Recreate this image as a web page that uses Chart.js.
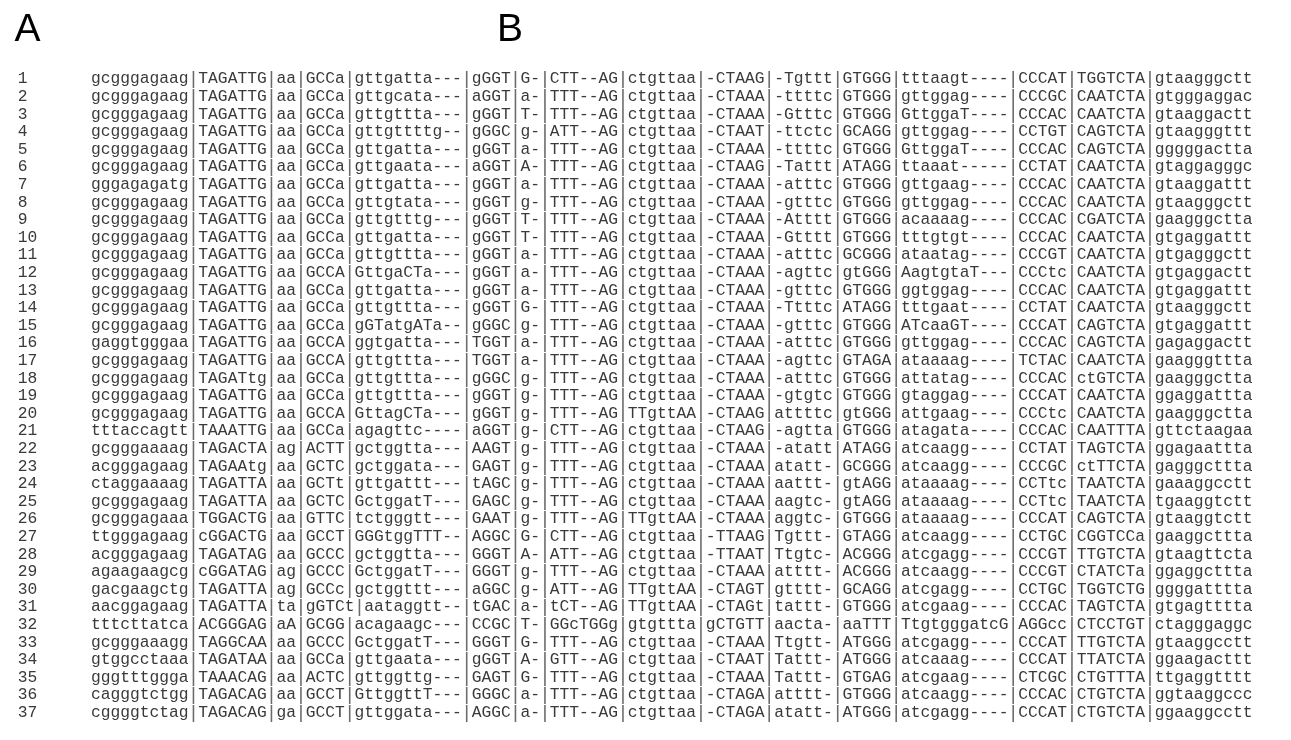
<!DOCTYPE html>
<html><head><meta charset="utf-8">
<script src="https://cdn.jsdelivr.net/npm/chart.js@4.4.0/dist/chart.umd.min.js"></script>
<style>html,body{margin:0;padding:0;background:#fff;}#wrap{width:1291px;height:740px;}</style>
</head><body><div id="wrap"><canvas id="c" width="1291" height="740"></canvas></div>
<script>
// ---- data ----
const panelLabels = ['A', 'B'];
const rowLabels = ['1','2','3','4','5','6','7','8','9','10','11','12','13','14','15','16','17','18','19','20','21','22','23','24','25','26','27','28','29','30','31','32','33','34','35','36','37'];
const sequences = [
'gcgggagaag|TAGATTG|aa|GCCa|gttgatta---|gGGT|G-|CTT--AG|ctgttaa|-CTAAG|-Tgttt|GTGGG|tttaagt----|CCCAT|TGGTCTA|gtaagggctt',
'gcgggagaag|TAGATTG|aa|GCCa|gttgcata---|aGGT|a-|TTT--AG|ctgttaa|-CTAAA|-ttttc|GTGGG|gttggag----|CCCGC|CAATCTA|gtgggaggac',
'gcgggagaag|TAGATTG|aa|GCCa|gttgttta---|gGGT|T-|TTT--AG|ctgttaa|-CTAAA|-Gtttc|GTGGG|GttggaT----|CCCAC|CAATCTA|gtaaggactt',
'gcgggagaag|TAGATTG|aa|GCCa|gttgttttg--|gGGC|g-|ATT--AG|ctgttaa|-CTAAT|-ttctc|GCAGG|gttggag----|CCTGT|CAGTCTA|gtaagggttt',
'gcgggagaag|TAGATTG|aa|GCCa|gttgatta---|gGGT|a-|TTT--AG|ctgttaa|-CTAAA|-ttttc|GTGGG|GttggaT----|CCCAC|CAGTCTA|gggggactta',
'gcgggagaag|TAGATTG|aa|GCCa|gttgaata---|aGGT|A-|TTT--AG|ctgttaa|-CTAAG|-Tattt|ATAGG|ttaaat-----|CCTAT|CAATCTA|gtaggagggc',
'gggagagatg|TAGATTG|aa|GCCa|gttgatta---|gGGT|a-|TTT--AG|ctgttaa|-CTAAA|-atttc|GTGGG|gttgaag----|CCCAC|CAATCTA|gtaaggattt',
'gcgggagaag|TAGATTG|aa|GCCa|gttgtata---|gGGT|g-|TTT--AG|ctgttaa|-CTAAA|-gtttc|GTGGG|gttggag----|CCCAC|CAATCTA|gtaagggctt',
'gcgggagaag|TAGATTG|aa|GCCa|gttgtttg---|gGGT|T-|TTT--AG|ctgttaa|-CTAAA|-Atttt|GTGGG|acaaaag----|CCCAC|CGATCTA|gaagggctta',
'gcgggagaag|TAGATTG|aa|GCCa|gttgatta---|gGGT|T-|TTT--AG|ctgttaa|-CTAAA|-Gtttt|GTGGG|tttgtgt----|CCCAC|CAATCTA|gtgaggattt',
'gcgggagaag|TAGATTG|aa|GCCa|gttgttta---|gGGT|a-|TTT--AG|ctgttaa|-CTAAA|-atttc|GCGGG|ataatag----|CCCGT|CAATCTA|gtgagggctt',
'gcgggagaag|TAGATTG|aa|GCCA|GttgaCTa---|gGGT|a-|TTT--AG|ctgttaa|-CTAAA|-agttc|gtGGG|AagtgtaT---|CCCtc|CAATCTA|gtgaggactt',
'gcgggagaag|TAGATTG|aa|GCCa|gttgatta---|gGGT|a-|TTT--AG|ctgttaa|-CTAAA|-gtttc|GTGGG|ggtggag----|CCCAC|CAATCTA|gtgaggattt',
'gcgggagaag|TAGATTG|aa|GCCa|gttgttta---|gGGT|G-|TTT--AG|ctgttaa|-CTAAA|-Ttttc|ATAGG|tttgaat----|CCTAT|CAATCTA|gtaagggctt',
'gcgggagaag|TAGATTG|aa|GCCa|gGTatgATa--|gGGC|g-|TTT--AG|ctgttaa|-CTAAA|-gtttc|GTGGG|ATcaaGT----|CCCAT|CAGTCTA|gtgaggattt',
'gaggtgggaa|TAGATTG|aa|GCCA|ggtgatta---|TGGT|a-|TTT--AG|ctgttaa|-CTAAA|-atttc|GTGGG|gttggag----|CCCAC|CAGTCTA|gagaggactt',
'gcgggagaag|TAGATTG|aa|GCCA|gttgttta---|TGGT|a-|TTT--AG|ctgttaa|-CTAAA|-agttc|GTAGA|ataaaag----|TCTAC|CAATCTA|gaagggttta',
'gcgggagaag|TAGATtg|aa|GCCa|gttgttta---|gGGC|g-|TTT--AG|ctgttaa|-CTAAA|-atttc|GTGGG|attatag----|CCCAC|ctGTCTA|gaagggctta',
'gcgggagaag|TAGATTG|aa|GCCa|gttgttta---|gGGT|g-|TTT--AG|ctgttaa|-CTAAA|-gtgtc|GTGGG|gtaggag----|CCCAT|CAATCTA|ggaggattta',
'gcgggagaag|TAGATTG|aa|GCCA|GttagCTa---|gGGT|g-|TTT--AG|TTgttAA|-CTAAG|attttc|gtGGG|attgaag----|CCCtc|CAATCTA|gaagggctta',
'tttaccagtt|TAAATTG|aa|GCCa|agagttc----|aGGT|g-|CTT--AG|ctgttaa|-CTAAG|-agtta|GTGGG|atagata----|CCCAC|CAATTTA|gttctaagaa',
'gcgggaaaag|TAGACTA|ag|ACTT|gctggtta---|AAGT|g-|TTT--AG|ctgttaa|-CTAAA|-atatt|ATAGG|atcaagg----|CCTAT|TAGTCTA|ggagaattta',
'acgggagaag|TAGAAtg|aa|GCTC|gctggata---|GAGT|g-|TTT--AG|ctgttaa|-CTAAA|atatt-|GCGGG|atcaagg----|CCCGC|ctTTCTA|gagggcttta',
'ctaggaaaag|TAGATTA|aa|GCTt|gttgattt---|tAGC|g-|TTT--AG|ctgttaa|-CTAAA|aattt-|gtAGG|ataaaag----|CCTtc|TAATCTA|gaaaggcctt',
'gcgggagaag|TAGATTA|aa|GCTC|GctggatT---|GAGC|g-|TTT--AG|ctgttaa|-CTAAA|aagtc-|gtAGG|ataaaag----|CCTtc|TAATCTA|tgaaggtctt',
'gcgggagaaa|TGGACTG|aa|GTTC|tctgggtt---|GAAT|g-|TTT--AG|TTgttAA|-CTAAA|aggtc-|GTGGG|ataaaag----|CCCAT|CAGTCTA|gtaaggtctt',
'ttgggagaag|cGGACTG|aa|GCCT|GGGtggTTT--|AGGC|G-|CTT--AG|ctgttaa|-TTAAG|Tgttt-|GTAGG|atcaagg----|CCTGC|CGGTCCa|gaaggcttta',
'acgggagaag|TAGATAG|aa|GCCC|gctggtta---|GGGT|A-|ATT--AG|ctgttaa|-TTAAT|Ttgtc-|ACGGG|atcgagg----|CCCGT|TTGTCTA|gtaagttcta',
'agaagaagcg|cGGATAG|ag|GCCC|GctggatT---|GGGT|g-|TTT--AG|ctgttaa|-CTAAA|atttt-|ACGGG|atcaagg----|CCCGT|CTATCTa|ggaggcttta',
'gacgaagctg|TAGATTA|ag|GCCc|gctggttt---|aGGC|g-|ATT--AG|TTgttAA|-CTAGT|gtttt-|GCAGG|atcgagg----|CCTGC|TGGTCTG|ggggatttta',
'aacggagaag|TAGATTA|ta|gGTCt|aataggtt--|tGAC|a-|tCT--AG|TTgttAA|-CTAGt|tattt-|GTGGG|atcgaag----|CCCAC|TAGTCTA|gtgagtttta',
'tttcttatca|ACGGGAG|aA|GCGG|acagaagc---|CCGC|T-|GGcTGGg|gtgttta|gCTGTT|aacta-|aaTTT|TtgtgggatcG|AGGcc|CTCCTGT|ctagggaggc',
'gcgggaaagg|TAGGCAA|aa|GCCC|GctggatT---|GGGT|G-|TTT--AG|ctgttaa|-CTAAA|Ttgtt-|ATGGG|atcgagg----|CCCAT|TTGTCTA|gtaaggcctt',
'gtggcctaaa|TAGATAA|aa|GCCa|gttgaata---|gGGT|A-|GTT--AG|ctgttaa|-CTAAT|Tattt-|ATGGG|atcaaag----|CCCAT|TTATCTA|ggaagacttt',
'gggtttggga|TAAACAG|aa|ACTC|gttggttg---|GAGT|G-|TTT--AG|ctgttaa|-CTAAA|Tattt-|GTGAG|atcgaag----|CTCGC|CTGTTTA|ttgaggtttt',
'cagggtctgg|TAGACAG|aa|GCCT|GttggttT---|GGGC|a-|TTT--AG|ctgttaa|-CTAGA|atttt-|GTGGG|atcaagg----|CCCAC|CTGTCTA|ggtaaggccc',
'cggggtctag|TAGACAG|ga|GCCT|gttggata---|AGGC|a-|TTT--AG|ctgttaa|-CTAGA|atatt-|ATGGG|atcgagg----|CCCAT|CTGTCTA|ggaaggcctt'
];

// ---- layout (cell / row units) ----
const layout = {
  cellPx: 9.76, seqLeftPx: 91, row1Px: 79, rowPx: 17.6,
  rowNumCell: -7.5, panelCells: [-7.85, 41.6], panelBaselineRow: -1.16
};
const xMin = -layout.seqLeftPx / layout.cellPx;
const xMax = xMin + 1291 / layout.cellPx;
const yMin = 1 - layout.row1Px / layout.rowPx;
const yMax = yMin + 740 / layout.rowPx;

const alignmentPlugin = {
  id: 'alignmentText',
  afterDatasetsDraw(chart) {
    const ctx = chart.ctx, xs = chart.scales.x, ys = chart.scales.y;
    ctx.save();
    // panel letters
    ctx.fillStyle = '#000';
    ctx.font = '39px "Liberation Sans", Arial, sans-serif';
    ctx.textAlign = 'left';
    ctx.textBaseline = 'alphabetic';
    panelLabels.forEach((t, i) => {
      ctx.fillText(t, xs.getPixelForValue(layout.panelCells[i]), ys.getPixelForValue(layout.panelBaselineRow));
    });
    // rows
    ctx.textBaseline = 'middle';
    const letterFont = '16.3px "Courier New", "Liberation Mono", monospace';
    const pipeFont = '19px "Courier New", "Liberation Mono", monospace';
    rowLabels.forEach((lab, r) => {
      const y = ys.getPixelForValue(r + 1);
      ctx.font = letterFont;
      ctx.fillStyle = '#3a3a3a';
      ctx.textAlign = 'left';
      ctx.fillText(lab, xs.getPixelForValue(layout.rowNumCell), y);
      ctx.textAlign = 'center';
      const s = sequences[r];
      for (let c = 0; c < s.length; c++) {
        const ch = s[c];
        if (ch === '|') { ctx.font = pipeFont; ctx.fillStyle = '#6a6a6a'; }
        else { ctx.font = letterFont; ctx.fillStyle = '#3a3a3a'; }
        ctx.fillText(ch, xs.getPixelForValue(c + 0.5), y);
      }
    });
    ctx.restore();
  }
};

new Chart(document.getElementById('c'), {
  type: 'scatter',
  data: {
    datasets: [{
      label: 'rows',
      data: rowLabels.map((l, i) => ({ x: layout.rowNumCell, y: i + 1 })),
      pointRadius: 0
    }]
  },
  options: {
    responsive: false,
    animation: false,
    events: [],
    layout: { padding: 0 },
    plugins: { legend: { display: false }, tooltip: { enabled: false } },
    scales: {
      x: { type: 'linear', display: false, min: xMin, max: xMax },
      y: { type: 'linear', display: false, reverse: true, min: yMin, max: yMax }
    }
  },
  plugins: [alignmentPlugin]
});
</script>
</body></html>
